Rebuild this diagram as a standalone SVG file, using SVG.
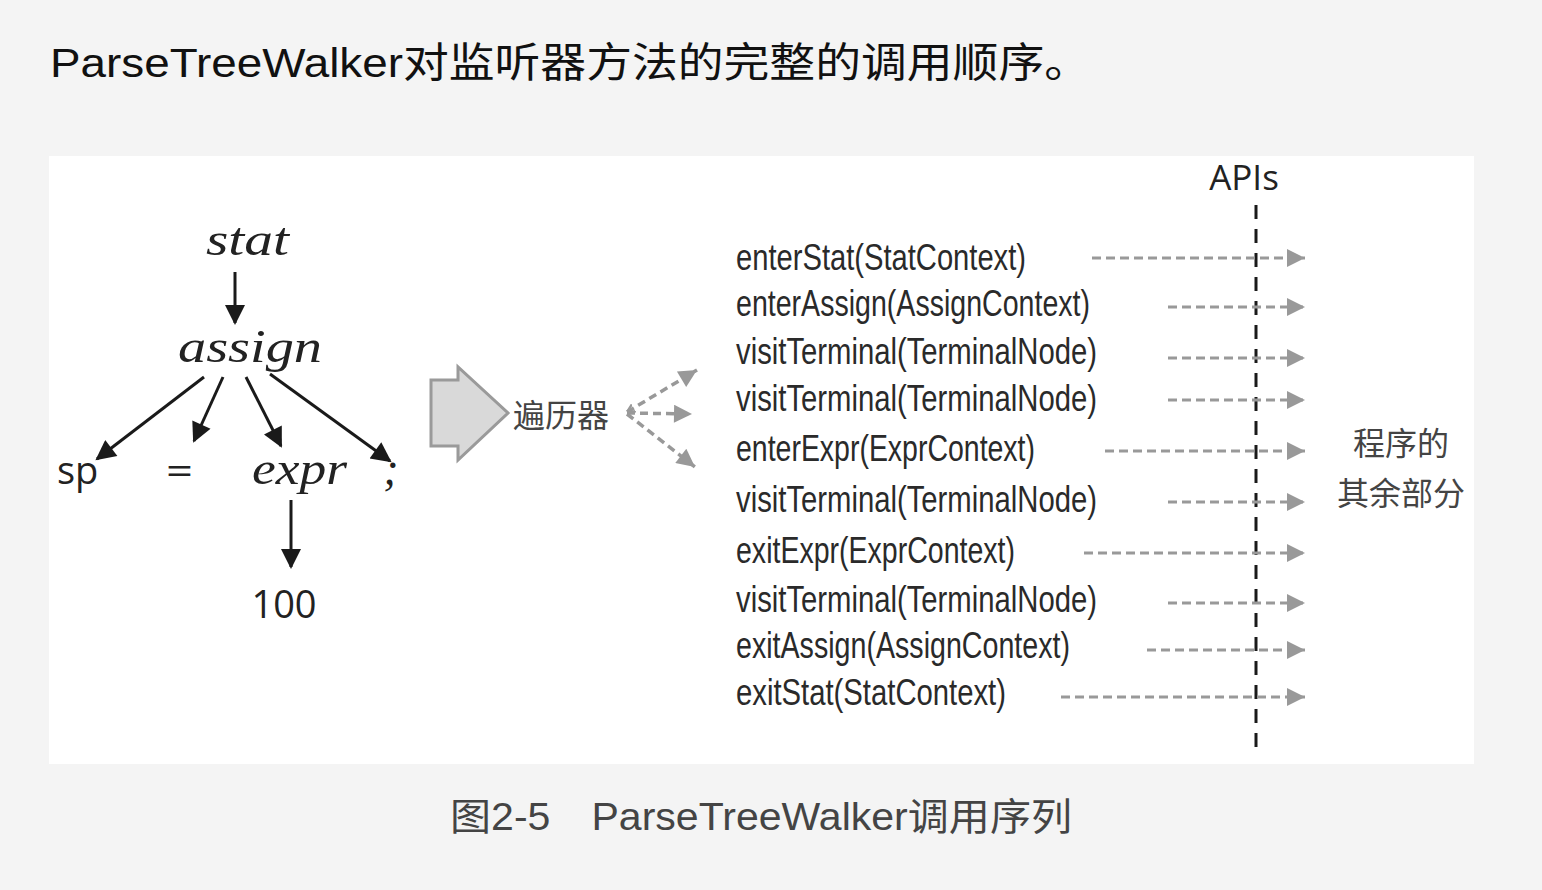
<svg xmlns="http://www.w3.org/2000/svg" width="1542" height="890" viewBox="0 0 1542 890">
<defs>
<style>
.title{font-family:"Liberation Sans","Noto Sans CJK SC",sans-serif;font-size:41px;fill:#111;}
.cap{font-family:"Liberation Sans","Noto Sans CJK SC",sans-serif;font-size:38px;fill:#444;}
.it{font-family:"Liberation Serif",serif;font-style:italic;font-size:46px;fill:#222;}
.sans{font-family:"Open Sans","Liberation Sans",sans-serif;font-size:38px;fill:#222;}
.m{font-family:"Liberation Sans Narrow","Liberation Sans",sans-serif;font-size:37px;fill:#2a2a2a;}
.cn{font-family:"Noto Sans CJK SC",sans-serif;font-size:32px;fill:#444;}
.tree{stroke:#1a1a1a;stroke-width:3;fill:none;}
.call{stroke:#999;stroke-width:3;stroke-dasharray:9 5;fill:none;}
.trav{stroke:#999;stroke-width:3.5;stroke-dasharray:8 5;fill:none;}
</style>
<marker id="bh" viewBox="0 0 10 10" refX="9" refY="5" markerWidth="22" markerHeight="20" orient="auto" markerUnits="userSpaceOnUse">
<path d="M0,0 L10,5 L0,10 z" fill="#1a1a1a"/>
</marker>
<marker id="gh" viewBox="0 0 10 10" refX="10" refY="5" markerWidth="22" markerHeight="18" orient="auto" markerUnits="userSpaceOnUse">
<path d="M0,0 L10,5 L0,10 z" fill="#999"/>
</marker>
<marker id="th" viewBox="0 0 10 10" refX="10" refY="5" markerWidth="20" markerHeight="18" orient="auto" markerUnits="userSpaceOnUse">
<path d="M0,0 L10,5 L0,10 z" fill="#999"/>
</marker>
<marker id="ts" viewBox="0 0 10 10" refX="0" refY="5" markerWidth="8" markerHeight="10" orient="auto" markerUnits="userSpaceOnUse">
<path d="M10,0 L0,5 L10,10" fill="none" stroke="#999" stroke-width="3"/>
</marker>
</defs>
<rect x="0" y="0" width="1542" height="890" fill="#f4f4f4"/>
<rect x="49" y="156" width="1425" height="608" fill="#ffffff"/>
<text class="title" x="50" y="77" textLength="1040" lengthAdjust="spacingAndGlyphs">ParseTreeWalker对监听器方法的完整的调用顺序。</text>
<text class="cap" x="450" y="830" textLength="622" lengthAdjust="spacingAndGlyphs">图2-5　ParseTreeWalker调用序列</text>

<g id="n-stat"><text class="it" x="206" y="255" textLength="83" lengthAdjust="spacingAndGlyphs">stat</text></g>
<g id="n-assign"><text class="it" x="178" y="362" textLength="144" lengthAdjust="spacingAndGlyphs">assign</text></g>
<g id="n-sp"><text class="sans" x="57" y="484">sp</text></g>
<g id="n-eq"><text class="sans" x="166" y="484" textLength="27" lengthAdjust="spacingAndGlyphs">=</text></g>
<g id="n-expr"><text class="it" x="252" y="484" textLength="95" lengthAdjust="spacingAndGlyphs">expr</text></g>
<g id="n-semi"><text class="it" x="391" y="484" text-anchor="middle">;</text></g>
<g id="n-100"><text class="sans" x="284" y="618" text-anchor="middle">100</text></g>

<g id="walker">
<path d="M431,380 L458,380 L458,367 L508,413 L458,460 L458,446 L431,446 z" fill="#d9d9d9" stroke="#9a9a9a" stroke-width="3"/>
<text class="cn" x="513" y="427" fill="#333">遍历器</text>
</g>

<g id="methods">
<text class="m" x="736" y="270" textLength="290" lengthAdjust="spacingAndGlyphs">enterStat(StatContext)</text>
<text class="m" x="736" y="316" textLength="354" lengthAdjust="spacingAndGlyphs">enterAssign(AssignContext)</text>
<text class="m" x="736" y="364" textLength="361" lengthAdjust="spacingAndGlyphs">visitTerminal(TerminalNode)</text>
<text class="m" x="736" y="411" textLength="361" lengthAdjust="spacingAndGlyphs">visitTerminal(TerminalNode)</text>
<text class="m" x="736" y="461" textLength="299" lengthAdjust="spacingAndGlyphs">enterExpr(ExprContext)</text>
<text class="m" x="736" y="512" textLength="361" lengthAdjust="spacingAndGlyphs">visitTerminal(TerminalNode)</text>
<text class="m" x="736" y="563" textLength="279" lengthAdjust="spacingAndGlyphs">exitExpr(ExprContext)</text>
<text class="m" x="736" y="612" textLength="361" lengthAdjust="spacingAndGlyphs">visitTerminal(TerminalNode)</text>
<text class="m" x="736" y="658" textLength="334" lengthAdjust="spacingAndGlyphs">exitAssign(AssignContext)</text>
<text class="m" x="736" y="705" textLength="270" lengthAdjust="spacingAndGlyphs">exitStat(StatContext)</text>
</g>

<g id="apis">
<text x="1244" y="190" text-anchor="middle" font-family="Open Sans, Liberation Sans, sans-serif" font-size="35" fill="#222">APIs</text>
<line x1="1256" y1="205" x2="1256" y2="757" stroke="#1a1a1a" stroke-width="3" stroke-dasharray="14 10"/>
</g>

<g id="rest">
<text class="cn" x="1401" y="455" text-anchor="middle">程序的</text>
<text class="cn" x="1401" y="505" text-anchor="middle">其余部分</text>
</g>

<g id="connectors">
<line class="tree" x1="235" y1="272" x2="235" y2="323" marker-end="url(#bh)"/>
<line class="tree" x1="204" y1="377" x2="97" y2="459" marker-end="url(#bh)"/>
<line class="tree" x1="223" y1="377" x2="194" y2="441" marker-end="url(#bh)"/>
<line class="tree" x1="246" y1="377" x2="281" y2="446" marker-end="url(#bh)"/>
<line class="tree" x1="270" y1="374" x2="390" y2="461" marker-end="url(#bh)"/>
<line class="tree" x1="291" y1="500" x2="291" y2="567" marker-end="url(#bh)"/>

<line class="trav" x1="627" y1="412" x2="697" y2="370" marker-end="url(#th)" marker-start="url(#ts)"/>
<line class="trav" x1="627" y1="413" x2="692" y2="414" marker-end="url(#th)"/>
<line class="trav" x1="627" y1="414" x2="695" y2="467" marker-end="url(#th)"/>

<line class="call" x1="1092" y1="258" x2="1305" y2="258" marker-end="url(#gh)"/>
<line class="call" x1="1168" y1="307" x2="1305" y2="307" marker-end="url(#gh)"/>
<line class="call" x1="1168" y1="358" x2="1305" y2="358" marker-end="url(#gh)"/>
<line class="call" x1="1168" y1="400" x2="1305" y2="400" marker-end="url(#gh)"/>
<line class="call" x1="1105" y1="451" x2="1305" y2="451" marker-end="url(#gh)"/>
<line class="call" x1="1168" y1="502" x2="1305" y2="502" marker-end="url(#gh)"/>
<line class="call" x1="1084" y1="553" x2="1305" y2="553" marker-end="url(#gh)"/>
<line class="call" x1="1168" y1="603" x2="1305" y2="603" marker-end="url(#gh)"/>
<line class="call" x1="1147" y1="650" x2="1305" y2="650" marker-end="url(#gh)"/>
<line class="call" x1="1061" y1="697" x2="1305" y2="697" marker-end="url(#gh)"/>
</g>
</svg>
